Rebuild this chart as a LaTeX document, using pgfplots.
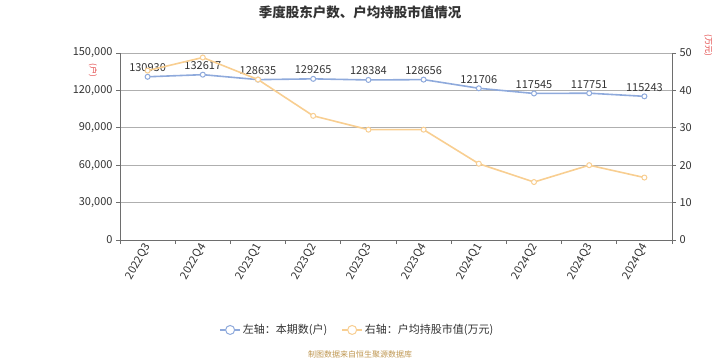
\documentclass[border=0pt]{standalone}
\usepackage{pgfplots}
\pgfplotsset{compat=1.18}
\usepackage{fontspec}
\setmainfont{Noto Sans CJK SC}
\definecolor{blueL}{RGB}{143,170,220}
\definecolor{orangeL}{RGB}{248,206,145}
\definecolor{axisgray}{RGB}{110,110,110}
\definecolor{gridgray}{RGB}{175,175,175}
\definecolor{txt}{RGB}{51,51,51}
\definecolor{src}{RGB}{190,150,80}
\definecolor{unitred}{RGB}{225,60,60}
\begin{document}
\begin{tikzpicture}[x=1pt,y=1pt]
\useasboundingbox (0,0) rectangle (720,360);
\pgfplotsset{
  base/.style={
    at={(120pt,120pt)}, anchor=south west, scale only axis,
    width=552pt, height=187pt, xmin=-0.5, xmax=9.5,
    tick align=outside, major tick length=4pt, minor tick length=4pt,
    axis line style={draw=axisgray, line width=0.8pt, -},
    tick style={draw=axisgray, line width=0.8pt},
    tick label style={font=\fontsize{11}{13}\selectfont, text=txt},
    /pgf/number format/assume math mode=true,
    clip=false,
  }
}
\begin{axis}[base,
  ymin=0, ymax=150000, ytick={0,30000,60000,90000,120000,150000},
  scaled y ticks=false,
  yticklabel style={/pgf/number format/.cd, fixed, 1000 sep={,}},
  axis y line*=left, axis x line*=bottom,
  ymajorgrids, grid style={draw=gridgray, line width=0.8pt},
  xtick={0,1,2,3,4,5,6,7,8,9},
  xticklabels={2022Q3,2022Q4,2023Q1,2023Q2,2023Q3,2023Q4,2024Q1,2024Q2,2024Q3,2024Q4},
  major x tick style=transparent,
  minor xtick={-0.5,0.5,1.5,2.5,3.5,4.5,5.5,6.5,7.5,8.5,9.5},
  xticklabel style={rotate=60, anchor=east, xshift=3pt, yshift=-1pt},
  legend style={at={(0.43,-0.481)}, anchor=center, draw=none, fill=none,
     font=\fontsize{11}{13}\selectfont, text=txt,
     /tikz/every even column/.append style={column sep=12pt}},
  legend columns=2,
]
\addlegendimage{legend image code/.code={
  \draw[blueL, line width=1.6pt] (0pt,0pt) -- (20pt,0pt);
  \draw[blueL, fill=white, line width=1pt] (10pt,0pt) circle (4.5pt);}}
\addlegendentry{左轴：本期数(户)}
\addlegendimage{legend image code/.code={
  \draw[orangeL, line width=1.6pt] (0pt,0pt) -- (20pt,0pt);
  \draw[orangeL, fill=white, line width=1pt] (10pt,0pt) circle (4.5pt);}}
\addlegendentry{右轴：户均持股市值(万元)}
\addplot[forget plot, blueL, line width=1.6pt, mark=*, mark size=2.5pt,
  mark options={fill=white, draw=blueL, line width=1pt},
  point meta=explicit symbolic,
  nodes near coords, every node near coord/.append style={font=\fontsize{11}{13}\selectfont, text=txt, yshift=1pt}]
coordinates {
(0,130930) [130930]
(1,132617) [132617]
(2,128635) [128635]
(3,129265) [129265]
(4,128384) [128384]
(5,128656) [128656]
(6,121706) [121706]
(7,117545) [117545]
(8,117751) [117751]
(9,115243) [115243]
};
\end{axis}
\begin{axis}[base,
  ymin=0, ymax=50, ytick={0,10,20,30,40,50},
  axis y line*=right, axis x line=none,
]
\addplot[orangeL, line width=1.6pt, mark=*, mark size=2.5pt,
  mark options={fill=white, draw=orangeL, line width=1pt}]
coordinates {
(0,45.3) (1,48.8) (2,42.9) (3,33.2) (4,29.5) (5,29.5) (6,20.4) (7,15.5) (8,20.0) (9,16.7)
};
\end{axis}
\node[font=\bfseries\fontsize{13.5}{15}\selectfont, text=txt] at (360,348) {季度股东户数、户均持股市值情况};
\node[font=\fontsize{8}{9}\selectfont, text=unitred, rotate=-90] at (93,290) {(户)};
\node[font=\fontsize{8}{9}\selectfont, text=unitred, rotate=-90] at (708,315) {(万元)};
\node[font=\fontsize{8}{9}\selectfont, text=src] at (360,6) {制图数据来自恒生聚源数据库};
\end{tikzpicture}
\end{document}
